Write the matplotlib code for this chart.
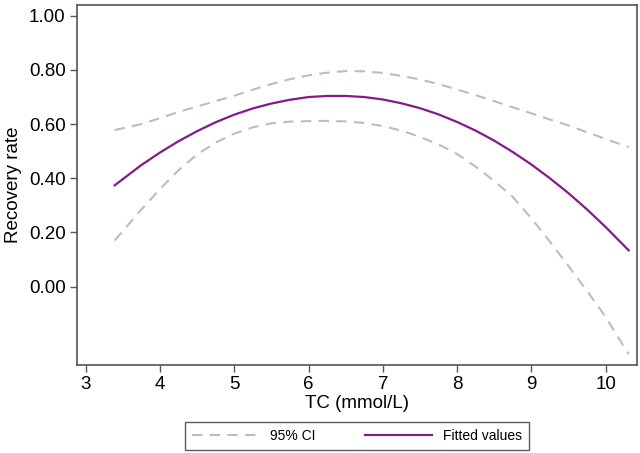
import matplotlib as mpl
import matplotlib.pyplot as plt

mpl.rcParams.update({'font.size': 13.5,
                     'font.family': ['Liberation Sans', 'DejaVu Sans'],
                    })

# TC (mmol/L) vs recovery rate
tc = [3.39, 3.75, 4.0, 4.25, 4.5, 4.75, 5.0, 5.25, 5.5, 5.75, 6.0, 6.25, 6.5,
      6.75, 7.0, 7.25, 7.5, 7.75, 8.0, 8.25, 8.5, 8.75, 9.0, 9.25, 9.5, 9.75,
      10.0, 10.31]
fitted = [0.374, 0.449, 0.495, 0.537, 0.574, 0.607, 0.635, 0.658, 0.676,
          0.690, 0.700, 0.704, 0.704, 0.700, 0.691, 0.677, 0.659, 0.636,
          0.608, 0.576, 0.539, 0.497, 0.451, 0.400, 0.345, 0.285, 0.220, 0.134]
ci_upper = [0.578, 0.600, 0.622, 0.645, 0.665, 0.685, 0.705, 0.727, 0.748,
            0.766, 0.780, 0.790, 0.796, 0.795, 0.789, 0.778, 0.765, 0.748,
            0.728, 0.707, 0.685, 0.662, 0.640, 0.617, 0.595, 0.570, 0.545,
            0.515]
ci_lower = [0.170, 0.285, 0.360, 0.430, 0.488, 0.532, 0.565, 0.588, 0.603,
            0.609, 0.611, 0.612, 0.610, 0.604, 0.593, 0.576, 0.553, 0.525,
            0.490, 0.443, 0.390, 0.331, 0.252, 0.166, 0.076, -0.016, -0.112,
            -0.250]

yticks = [0.0, 0.2, 0.4, 0.6, 0.8, 1.0]
xticks = [3, 4, 5, 6, 7, 8, 9, 10]

fig = plt.figure(figsize=(6.4, 4.53), dpi=100)
ax = fig.add_axes([0.120, 0.194, 0.875, 0.795])

l1, = ax.plot(tc, ci_upper, color='#bdbdbd', lw=1.5, ls=(0, (5, 3.5)))
ax.plot(tc, ci_lower, color='#bdbdbd', lw=1.5, ls=(0, (5, 3.5)))
l2, = ax.plot(tc, fitted, color='#86198a', lw=1.6)

ax.set_xlim(2.88, 10.42)
ax.set_ylim(-0.29, 1.04)
ax.set_xticks(xticks)
ax.set_yticks(yticks)
ax.set_yticklabels(['%.2f' % v for v in yticks])
ax.set_xlabel('TC (mmol/L)', labelpad=1)
ax.set_ylabel('Recovery rate', labelpad=5)
ax.tick_params(direction='out', length=5, width=1, color='#555555', pad=3)
for s in ax.spines.values():
    s.set_color('#555555')
    s.set_linewidth(1.2)

leg = fig.legend([l1, l2], ['95% CI', 'Fitted values'], loc='center',
                 bbox_to_anchor=(0.558, 0.038), ncol=2, fontsize=10,
                 frameon=True, fancybox=False, handlelength=4.8,
                 columnspacing=3.6, borderpad=0.5)
leg.get_frame().set_edgecolor('#333333')
leg.get_frame().set_linewidth(1.0)

fig.savefig('out.png', dpi=100)
